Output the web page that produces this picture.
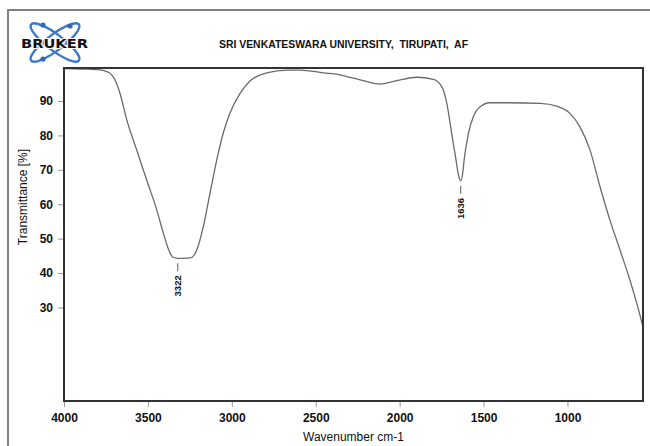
<!DOCTYPE html>
<html>
<head>
<meta charset="utf-8">
<script src="https://cdn.jsdelivr.net/npm/d3@7"></script>
<style>
	html, body {
		margin: 0;
		padding: 0;
		background: #fff;
	}
	svg {
		display: block;
		font-family: 'Liberation Sans', Arial, sans-serif;
	}
</style>
</head>
<body>
<div id="chart"></div>
<script>
// Spectrum (wavenumber in cm-1, transmittance in %)
const wavenumbers = [
	4000, 3900, 3800, 3760, 3726, 3696, 3666, 3626, 3567, 3507, 3447, 3408,
	3368, 3350, 3322, 3290, 3250, 3237, 3209, 3170, 3130, 3090, 3051, 3011,
	2951, 2892, 2792, 2673, 2594, 2455, 2355, 2296, 2216, 2117, 2017, 1898,
	1799, 1749, 1719, 1690, 1664, 1650, 1636, 1625, 1616, 1590, 1561, 1521,
	1461, 1362, 1163, 1064, 985, 926, 866, 806, 747, 687, 628, 587, 550,
];
const transmittance = [
	99.4, 99.3, 99.1, 98.8, 98.1, 96.1, 92.2, 84.5, 75.8, 67.0, 58.3, 51.6,
	45.8, 44.6, 44.3, 44.3, 44.4, 44.6, 46.7, 53.5, 63.2, 72.8, 80.7, 86.5,
	92.2, 95.8, 98.2, 99.0, 99.0, 98.2, 97.6, 96.9, 95.9, 94.9, 95.9, 96.9,
	96.3, 94.2, 89.3, 80.6, 72.8, 68.6, 66.8, 68.8, 72.8, 80.6, 85.4, 88.3,
	89.5, 89.5, 89.3, 88.5, 86.4, 82.5, 75.8, 65.1, 55.4, 46.7, 38.0, 31.2,
	24.4,
];

const peakLabels = [3322, 1636];
const xTicks = [4000, 3500, 3000, 2500, 2000, 1500, 1000];
const yTicks = [90, 80, 70, 60, 50, 40, 30];

const title = 'SRI VENKATESWARA UNIVERSITY,  TIRUPATI,  AF';
const xLabel = 'Wavenumber cm-1';
const yLabel = 'Transmittance [%]';

const width = 650;
const height = 446;
const box = {left: 64, top: 68, right: 643, bottom: 401};

const svg = d3
	.select('#chart')
	.append('svg')
	.attr('width', width)
	.attr('height', height);

// Page frame
svg.append('path')
	.attr('d', `M8,${height}V10H${width}`)
	.attr('fill', 'none')
	.attr('stroke', '#808080')
	.attr('stroke-width', 2);

// Logo
const logo = svg.append('g');
[-37, 37].forEach(angle => {
	logo.append('ellipse')
		.attr('cx', 0)
		.attr('cy', 0)
		.attr('rx', 30)
		.attr('ry', 8)
		.attr('fill', 'none')
		.attr('stroke', '#3a78c8')
		.attr('stroke-width', 2.4)
		.attr('transform', `translate(55,42.5) rotate(${angle})`);
});
[[43, 25], [43, 59], [70, 26]].forEach(d => {
	logo.append('circle')
		.attr('cx', d[0])
		.attr('cy', d[1])
		.attr('r', 2.6)
		.attr('fill', '#2f69b8');
});
logo.append('text')
	.attr('x', 21)
	.attr('y', 47.5)
	.attr('textLength', 67)
	.attr('lengthAdjust', 'spacingAndGlyphs')
	.attr('font-family', "'DejaVu Sans', sans-serif")
	.attr('font-weight', 'bold')
	.attr('font-size', 13)
	.attr('fill', '#111')
	.attr('stroke', '#fff')
	.attr('stroke-width', 2)
	.attr('paint-order', 'stroke')
	.text('BRUKER');

svg.append('text')
	.attr('x', 219)
	.attr('y', 48)
	.attr('textLength', 249)
	.attr('lengthAdjust', 'spacingAndGlyphs')
	.attr('font-weight', 'bold')
	.attr('font-size', 11)
	.attr('fill', '#111')
	.style('white-space', 'pre')
	.text(title);

const x = d3
	.scaleLinear()
	.domain([4000, 550])
	.range([box.left, box.right]);

const y = d3
	.scaleLinear()
	.domain([2.84, 99.59])
	.range([box.bottom, box.top]);

// Axes
const xAxis = svg
	.append('g')
	.attr('transform', `translate(0,${box.bottom})`)
	.call(
		d3
			.axisBottom(x)
			.tickValues(xTicks)
			.tickFormat(d3.format('d'))
			.tickSize(6)
			.tickPadding(6)
	);

const yAxis = svg
	.append('g')
	.attr('transform', `translate(${box.left},0)`)
	.call(
		d3
			.axisLeft(y)
			.tickValues(yTicks)
			.tickFormat(d3.format('d'))
			.tickSize(6)
			.tickPadding(5)
	);

[xAxis, yAxis].forEach(axis => {
	axis.select('.domain').remove();
	axis.selectAll('.tick line').attr('stroke', '#999');
	axis.selectAll('.tick text')
		.attr('font-family', "'Liberation Sans', Arial, sans-serif")
		.attr('font-weight', 'bold')
		.attr('font-size', 12)
		.attr('fill', '#111');
});
yAxis.selectAll('.tick text').attr('x', -11);

svg.append('text')
	.attr('x', (box.left + box.right) / 2)
	.attr('y', 441)
	.attr('text-anchor', 'middle')
	.attr('font-size', 12)
	.attr('fill', '#111')
	.text(xLabel);

svg.append('text')
	.attr('transform', 'translate(27,197) rotate(-90)')
	.attr('text-anchor', 'middle')
	.attr('font-size', 12)
	.attr('fill', '#111')
	.text(yLabel);

// Spectrum line
const points = wavenumbers.map((w, i) => [w, transmittance[i]]);

svg.append('path')
	.datum(points)
	.attr('fill', 'none')
	.attr('stroke', '#6a6a6a')
	.attr('stroke-width', 1.3)
	.attr(
		'd',
		d3
			.line()
			.x(d => x(d[0]))
			.y(d => y(d[1]))
			.curve(d3.curveMonotoneX)
	);

// Peak labels
peakLabels.forEach(w => {
	const i = wavenumbers.indexOf(w);
	const px = x(w);
	const py = y(transmittance[i]);

	svg.append('line')
		.attr('x1', px)
		.attr('x2', px)
		.attr('y1', py + 5)
		.attr('y2', py + 13)
		.attr('stroke', '#555')
		.attr('stroke-width', 1);

	svg.append('text')
		.attr('transform', `translate(${px},${py + 17}) rotate(-90)`)
		.attr('text-anchor', 'end')
		.attr('dominant-baseline', 'central')
		.attr('font-weight', 'bold')
		.attr('font-size', 9.5)
		.attr('fill', '#111')
		.text(w);
});

// Plot frame
svg.append('rect')
	.attr('x', box.left)
	.attr('y', box.top)
	.attr('width', box.right - box.left)
	.attr('height', box.bottom - box.top)
	.attr('fill', 'none')
	.attr('stroke', '#333')
	.attr('stroke-width', 2);
</script>
</body>
</html>
